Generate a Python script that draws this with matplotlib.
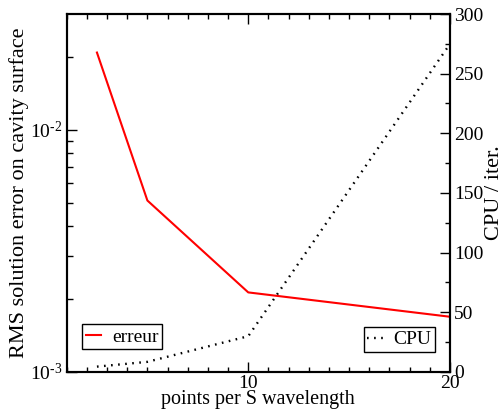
import matplotlib
matplotlib.use("Agg")
import matplotlib.pyplot as plt
from matplotlib.ticker import FixedLocator, FixedFormatter, MultipleLocator

plt.rcParams['font.family'] = ['Liberation Serif', 'DejaVu Serif']
plt.rcParams['mathtext.fontset'] = 'custom'
plt.rcParams['mathtext.rm'] = 'Liberation Serif'

# Data
points_per_wavelength = [2.5, 5, 10, 20]
rms_error = [0.0208, 0.0051, 0.00213, 0.00169]
cpu_per_iter = [4.5, 8.5, 30, 275]

fig = plt.figure(figsize=(5.04, 4.13), dpi=100)
ax = fig.add_axes([0.1323, 0.0993, 0.7606, 0.8668])
ax2 = ax.twinx()

# RMS error on log scale (left axis)
ax.plot(points_per_wavelength, rms_error, color='red', lw=1.5, label='erreur')
ax.set_yscale('log')
ax.set_xlim(1, 20)
ax.set_ylim(1e-3, 3e-2)

# CPU time per iteration (right axis)
ax2.plot(points_per_wavelength, cpu_per_iter, color='black', lw=1.7,
         linestyle=(0, (0.7, 2.3)), label='CPU')
ax2.set_ylim(0, 300)

# Ticks
ax.xaxis.set_major_locator(FixedLocator([10, 20]))
ax.xaxis.set_minor_locator(MultipleLocator(1))
ax.yaxis.set_major_locator(FixedLocator([1e-3, 1e-2]))
ax.yaxis.set_major_formatter(FixedFormatter([r'$\mathregular{10^{\text{-}3}}$',
                                             r'$\mathregular{10^{\text{-}2}}$']))
ax.yaxis.set_minor_locator(FixedLocator([k * 1e-3 for k in range(2, 10)] + [2e-2]))
ax.yaxis.set_minor_formatter(FixedFormatter([''] * 9))

ax.tick_params(axis='x', which='both', direction='in', top=True, labelsize=14, pad=2)
ax.tick_params(axis='x', which='major', length=7, width=1)
ax.tick_params(axis='x', which='minor', length=3.5, width=1)
ax.tick_params(axis='y', which='both', direction='in', right=False, labelsize=14, pad=3)
ax.tick_params(axis='y', which='major', length=7, width=1)
ax.tick_params(axis='y', which='minor', length=4, width=1)

ax2.yaxis.set_major_locator(MultipleLocator(50))
ax2.yaxis.set_minor_locator(MultipleLocator(25))
ax2.tick_params(axis='y', which='both', direction='in', labelsize=14, pad=3)
ax2.tick_params(axis='y', which='major', length=7, width=1)
ax2.tick_params(axis='y', which='minor', length=3.5, width=1)

for a in (ax, ax2):
    for s in a.spines.values():
        s.set_linewidth(1.5)

ax.set_xlabel('points per S wavelength', fontsize=14.5, labelpad=-1)
ax.set_ylabel('RMS solution error on cavity surface', fontsize=16, labelpad=1)
ax2.set_ylabel('CPU / iter.', fontsize=16, labelpad=1)

leg_kw = dict(fontsize=14, frameon=True, fancybox=False, borderaxespad=0,
              handlelength=0.8, handletextpad=0.55, borderpad=0.18,
              framealpha=1)
l1 = ax.legend(loc='lower left', bbox_to_anchor=(0.04, 0.064), **leg_kw)
l2 = ax2.legend(loc='lower right', bbox_to_anchor=(0.961, 0.056), **leg_kw)
for lg in (l1, l2):
    lg.get_frame().set_edgecolor('black')
    lg.get_frame().set_linewidth(1.0)

fig.savefig('out.png', dpi=100)
